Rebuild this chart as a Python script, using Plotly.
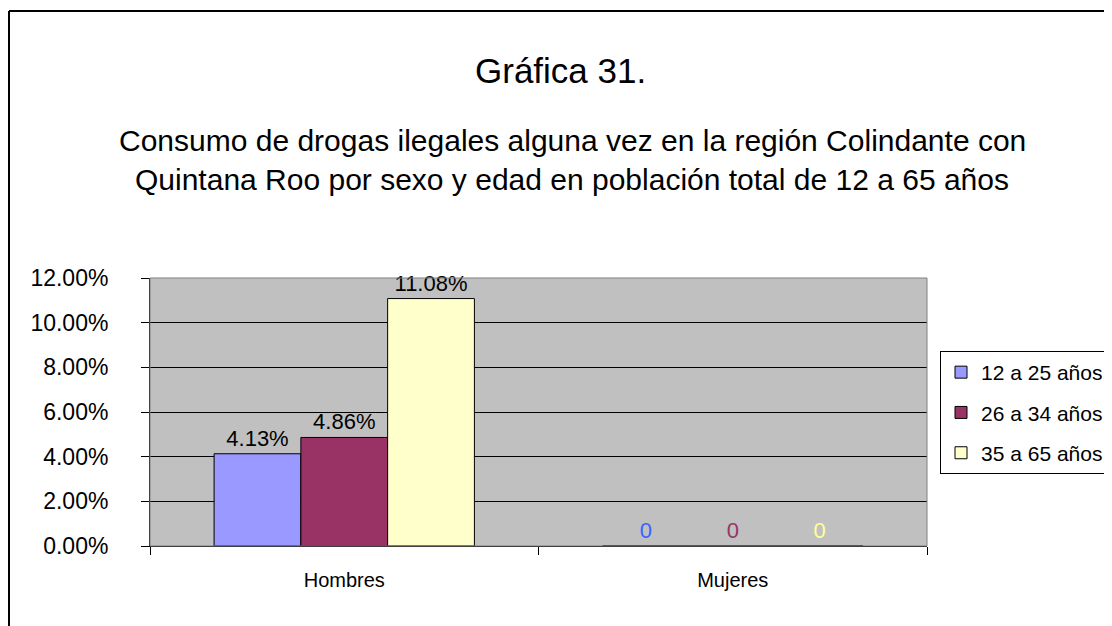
import plotly.graph_objects as go

categories = ["Hombres", "Mujeres"]
series_names = ["12 a 25 años", "26 a 34 años", "35 a 65 años"]
values_12_25 = [0.0413, 0.0]
values_26_34 = [0.0486, 0.0]
values_35_65 = [0.1108, 0.0]
series_values = [values_12_25, values_26_34, values_35_65]
bar_colors = ["#9999FF", "#993366", "#FFFFCC"]
zero_label_colors = ["#3366FF", "#993366", "#FFFF99"]
y_ticks = [0, 0.02, 0.04, 0.06, 0.08, 0.10, 0.12]

FONT = "Liberation Sans, Arial, sans-serif"

fig = go.Figure()
for name, vals, col, zcol in zip(series_names, series_values, bar_colors, zero_label_colors):
    texts = [f"{v:.2%}" if v else "0" for v in vals]
    tcolors = ["#000000" if v else zcol for v in vals]
    fig.add_trace(go.Bar(
        x=categories, y=vals, name=name,
        marker=dict(color=col, line=dict(color="#000000", width=1)),
        text=texts, textposition="outside", cliponaxis=False,
        textfont=dict(family=FONT, size=22, color=tcolors),
        legendgroup=name,
    ))

# page body has an 8px margin; work in reference pixel coords and shift
OFF = 8
W, H = 1112 - OFF, 626 - OFF
L = 150 - OFF
T = 278 - OFF
R = W - (927 - OFF)
B = H - (546 - OFF)
pw, ph = W - L - R, H - T - B

def px(x):
    return (x - OFF - L) / pw

def py(y):
    return (H - B - (y - OFF)) / ph

fig.update_layout(
    width=W, height=H,
    margin=dict(l=L, r=R, t=T, b=B, autoexpand=False),
    paper_bgcolor="white", plot_bgcolor="#C0C0C0",
    barmode="group", bargap=0.33, bargroupgap=0,
    font=dict(family=FONT, color="#000000"),
    showlegend=True,
    legend=dict(
        x=px(940), y=py(351), xanchor="left", yanchor="top",
        bordercolor="#000000", borderwidth=1, bgcolor="white",
        font=dict(family=FONT, size=21, color="#000000"),
        tracegroupgap=10, itemwidth=30,
    ),
    xaxis=dict(
        showline=True, linecolor="#000000", linewidth=1,
        ticks="outside", tickson="boundaries", ticklen=8, tickcolor="#000000",
        tickfont=dict(family=FONT, size=20, color="#000000"),
        ticklabelstandoff=16,
        showgrid=False,
    ),
    yaxis=dict(
        range=[0, 0.12], tickvals=y_ticks, tickformat=".2%",
        showline=True, linecolor="#000000", linewidth=1,
        ticks="outside", ticklen=8, tickcolor="#000000",
        showgrid=True, gridcolor="#000000", gridwidth=1,
        tickfont=dict(family=FONT, size=23, color="#000000"),
        ticklabelstandoff=28,
        zeroline=False,
    ),
    annotations=[
        dict(text="Gráfica 31.", xref="paper", yref="paper", x=px(560), y=py(70),
             xanchor="center", yanchor="middle", showarrow=False,
             font=dict(family=FONT, size=35, color="#000000")),
        dict(text="Consumo de drogas ilegales alguna vez en la región Colindante con",
             xref="paper", yref="paper", x=px(572), y=py(140),
             xanchor="center", yanchor="middle", showarrow=False,
             font=dict(family=FONT, size=30, color="#000000")),
        dict(text="Quintana Roo por sexo y edad en población total de 12 a 65 años",
             xref="paper", yref="paper", x=px(572), y=py(179),
             xanchor="center", yanchor="middle", showarrow=False,
             font=dict(family=FONT, size=30, color="#000000")),
    ],
    shapes=[
        dict(type="rect", xref="paper", yref="paper", x0=0, x1=1, y0=0, y1=1,
             line=dict(color="#808080", width=1), fillcolor="rgba(0,0,0,0)", layer="above"),
        dict(type="line", xref="paper", yref="paper", x0=px(9), x1=px(1130), y0=py(11), y1=py(11),
             line=dict(color="#000000", width=2)),
        dict(type="line", xref="paper", yref="paper", x0=px(9), x1=px(9), y0=py(11), y1=py(650),
             line=dict(color="#000000", width=2)),
    ],
)

fig.write_html("out.html")
